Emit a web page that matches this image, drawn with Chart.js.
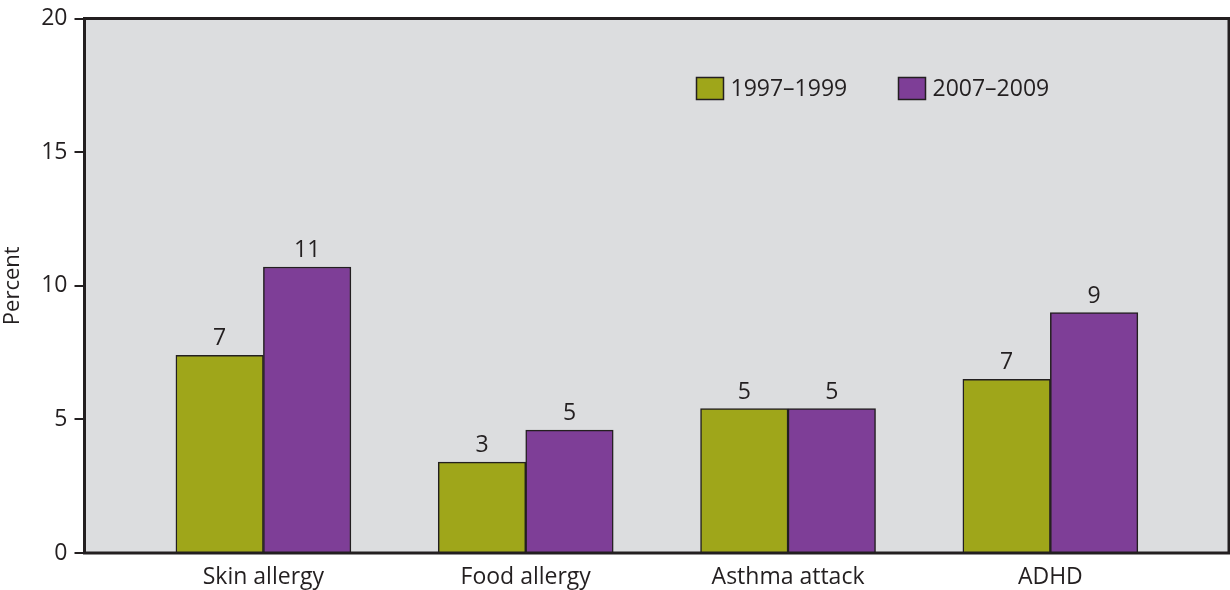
<!DOCTYPE html>
<html>
<head>
<meta charset="utf-8">
<script src="https://cdn.jsdelivr.net/npm/chart.js@4.4.1/dist/chart.umd.min.js"></script>
<style>
  html, body { margin: 0; padding: 0; background: #fff; }
  #wrap { width: 1230px; height: 590px; }
</style>
</head>
<body>
<div id="wrap"><canvas id="myChart" width="1230" height="590"></canvas></div>
<script>
var categories = ['Skin allergy', 'Food allergy', 'Asthma attack', 'ADHD'];
var seriesNames = ['1997\u20131999', '2007\u20132009'];
var values9799 = [7.4, 3.4, 5.4, 6.5];
var values0709 = [10.7, 4.6, 5.4, 9.0];
var yTicks = [0, 5, 10, 15, 20];
var colors = ['#9fa61a', '#7e3e97'];

var ink = '#231f20';
var font = '"Open Sans", "Noto Sans", sans-serif';

function toPoints(vals) {
  return vals.map(function(v, i) { return { x: i, y: v }; });
}

// grey plot background + frame
var plotFrame = {
  id: 'plotFrame',
  beforeDraw: function(chart) {
    var a = chart.chartArea, c = chart.ctx;
    c.save();
    c.fillStyle = '#dcdddf';
    c.fillRect(a.left, a.top, a.right - a.left, a.bottom - a.top);
    c.restore();
  },
  afterDatasetsDraw: function(chart) {
    var a = chart.chartArea, c = chart.ctx;
    c.save();
    c.strokeStyle = ink;
    c.lineWidth = 3;
    c.strokeRect(a.left, a.top, a.right - a.left, a.bottom - a.top);
    c.restore();
  }
};

// rounded values above bars
var barLabels = {
  id: 'barLabels',
  afterDatasetsDraw: function(chart) {
    var c = chart.ctx;
    c.save();
    c.font = '23px ' + font;
    c.fillStyle = ink;
    c.textAlign = 'center';
    c.textBaseline = 'bottom';
    chart.data.datasets.forEach(function(ds, di) {
      chart.getDatasetMeta(di).data.forEach(function(bar, i) {
        c.fillText(String(Math.round(ds.data[i].y)), bar.x, bar.y - 5);
      });
    });
    c.restore();
  }
};

// legend drawn inside the plot area
var innerLegend = {
  id: 'innerLegend',
  afterDraw: function(chart) {
    var a = chart.chartArea, c = chart.ctx;
    var x = a.left + 612, y = a.top + 70;
    c.save();
    c.font = '23px ' + font;
    c.textBaseline = 'middle';
    chart.data.datasets.forEach(function(ds, di) {
      c.fillStyle = ds.backgroundColor;
      c.fillRect(x, y - 11, 27, 22);
      c.strokeStyle = ink;
      c.lineWidth = 1.5;
      c.strokeRect(x, y - 11, 27, 22);
      c.fillStyle = ink;
      c.fillText(ds.label, x + 34, y + 1);
      x += 202;
    });
    c.restore();
  }
};

var ctx = document.getElementById('myChart').getContext('2d');
var chart = new Chart(ctx, {
  type: 'bar',
  data: {
    datasets: [
      { label: seriesNames[0], data: toPoints(values9799), backgroundColor: colors[0], borderColor: ink, borderWidth: 1.5 },
      { label: seriesNames[1], data: toPoints(values0709), backgroundColor: colors[1], borderColor: ink, borderWidth: 1.5 }
    ]
  },
  options: {
    responsive: false,
    animation: false,
    barThickness: 87.5,
    layout: { padding: { top: 17, right: 1, left: 0, bottom: 0 } },
    plugins: {
      legend: { display: false },
      tooltip: { enabled: false }
    },
    scales: {
      x: {
        type: 'linear',
        offset: false,
        min: -0.682,
        max: 3.681,
        grid: { display: false, drawTicks: false },
        border: { display: false },
        afterBuildTicks: function(scale) {
          scale.ticks = categories.map(function(c, i) { return { value: i }; });
        },
        afterFit: function(scale) { scale.height = 37; },
        ticks: {
          color: ink,
          font: { family: font, size: 23 },
          padding: 11,
          maxRotation: 0,
          callback: function(v) { return categories[v]; }
        }
      },
      y: {
        min: 0,
        max: 20,
        afterBuildTicks: function(scale) {
          scale.ticks = yTicks.map(function(v) { return { value: v }; });
        },
        afterFit: function(scale) { scale.width = 84.5; },
        grid: { drawOnChartArea: false, drawTicks: true, tickLength: 10, color: ink, lineWidth: 2 },
        border: { display: false },
        title: {
          display: true,
          text: 'Percent',
          color: ink,
          font: { family: font, size: 22 },
          padding: 0
        },
        ticks: {
          color: ink,
          font: { family: font, size: 23, lineHeight: 1 },
          padding: 7
        }
      }
    }
  },
  plugins: [plotFrame, barLabels, innerLegend]
});
</script>
</body>
</html>
